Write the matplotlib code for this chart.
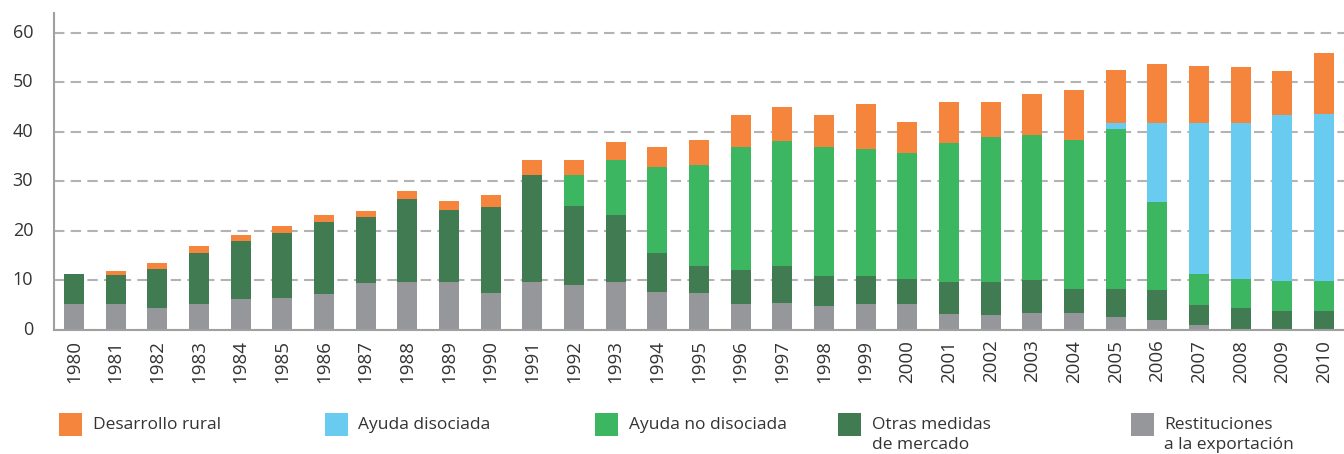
import numpy as np
import matplotlib
matplotlib.use("Agg")
import matplotlib.pyplot as plt
from matplotlib.patches import Rectangle

# cumulative tops, converted to layer heights below
years = [str(y) for y in range(1980, 2011)]

restituciones = [5.2, 5.2, 4.4, 5.2, 6.3, 6.5, 7.3, 9.5, 9.7, 9.7,
                 7.5, 9.7, 9.1, 9.7, 7.7, 7.5, 5.2, 5.5, 4.8, 5.2,
                 5.2, 3.2, 3.0, 3.4, 3.4, 2.6, 2.0, 1.0, 0.2, 0.2, 0.2]
top_otras = [11.3, 11.1, 12.3, 15.5, 18.0, 19.6, 21.8, 22.8, 26.4, 24.2,
             24.8, 31.3, 25.0, 23.2, 15.5, 12.9, 12.1, 12.9, 10.9, 10.9,
             10.3, 9.7, 9.7, 10.1, 8.3, 8.3, 8.1, 5.0, 4.4, 3.8, 3.8]
top_no_disoc = [11.3, 11.1, 12.3, 15.5, 18.0, 19.6, 21.8, 22.8, 26.4, 24.2,
                24.8, 31.3, 31.3, 34.3, 32.9, 33.3, 36.9, 38.2, 36.9, 36.5,
                35.7, 37.8, 39.0, 39.4, 38.4, 40.6, 25.8, 11.3, 10.3, 9.9, 9.9]
top_disoc = [11.3, 11.1, 12.3, 15.5, 18.0, 19.6, 21.8, 22.8, 26.4, 24.2,
             24.8, 31.3, 31.3, 34.3, 32.9, 33.3, 36.9, 38.2, 36.9, 36.5,
             35.7, 37.8, 39.0, 39.4, 38.4, 41.8, 41.8, 41.8, 41.8, 43.4, 43.6]
totals = [11.3, 11.9, 13.5, 17.0, 19.2, 21.0, 23.2, 24.0, 28.1, 26.0,
          27.3, 34.3, 34.3, 38.0, 36.9, 38.4, 43.4, 45.0, 43.4, 45.6,
          42.0, 46.0, 46.0, 47.6, 48.5, 52.5, 53.7, 53.3, 53.1, 52.3, 55.9]

otras = np.array(top_otras) - np.array(restituciones)
no_disoc = np.array(top_no_disoc) - np.array(top_otras)
disoc = np.array(top_disoc) - np.array(top_no_disoc)
rural = np.array(totals) - np.array(top_disoc)

labels = ["Desarrollo rural", "Ayuda disociada", "Ayuda no disociada",
          "Otras medidas\nde mercado", "Restituciones\na la exportación"]
colors = ["#F5843C", "#69CBEF", "#3CB661", "#417B52", "#96979A"]

plt.rcParams['font.family'] = ['Open Sans', 'DejaVu Sans']

fig = plt.figure(figsize=(13.44, 4.54), dpi=100)
ax = fig.add_axes([54 / 1344, 1 - 330 / 454, 1 - 54 / 1344, (330 - 13) / 454])

x = np.arange(len(years))
w = 0.48
layers = [restituciones, otras, no_disoc, disoc, rural]
layer_colors = colors[::-1]
bottom = np.zeros(len(years))
for vals, c in zip(layers, layer_colors):
    ax.bar(x, vals, width=w, bottom=bottom, color=c, linewidth=0, zorder=2)
    bottom = bottom + np.array(vals)

ax.set_xlim(-0.48, len(years) - 0.52)
ax.set_ylim(0, 64)
ax.set_yticks([0, 10, 20, 30, 40, 50, 60])
ax.set_xticks(x)
ax.set_xticklabels(years, rotation=90)
ax.tick_params(axis='y', length=0, pad=15, labelsize=13, labelcolor='#333333')
ax.tick_params(axis='x', length=0, pad=7, labelsize=13.5, labelcolor='#333333')
for lab in ax.get_yticklabels():
    lab.set_verticalalignment('center')

ax.yaxis.grid(True, linestyle=(0, (5, 3)), color='#b3b3b3', linewidth=1.5, zorder=0)
ax.set_axisbelow(True)
for s in ['top', 'right']:
    ax.spines[s].set_visible(False)
ax.spines['left'].set_color('#a0a0a0')
ax.spines['bottom'].set_color('#a0a0a0')
ax.spines['left'].set_linewidth(1.5)
ax.spines['bottom'].set_linewidth(1.5)

# legend drawn by hand in figure pixels
sq_x = [59, 325, 595, 838, 1131]
txt_x = [93, 358, 629, 872, 1164]
for sx, tx, lab, c in zip(sq_x, txt_x, labels, colors):
    fig.patches.append(Rectangle((sx / 1344, 1 - 436 / 454), 23 / 1344, 23 / 454,
                                 transform=fig.transFigure, color=c, linewidth=0))
    fig.text(tx / 1344, 1 - 417 / 454, lab, ha='left', va='top', fontsize=12.5,
             color='#333333', linespacing=1.35)

fig.savefig("out.png", dpi=100)
